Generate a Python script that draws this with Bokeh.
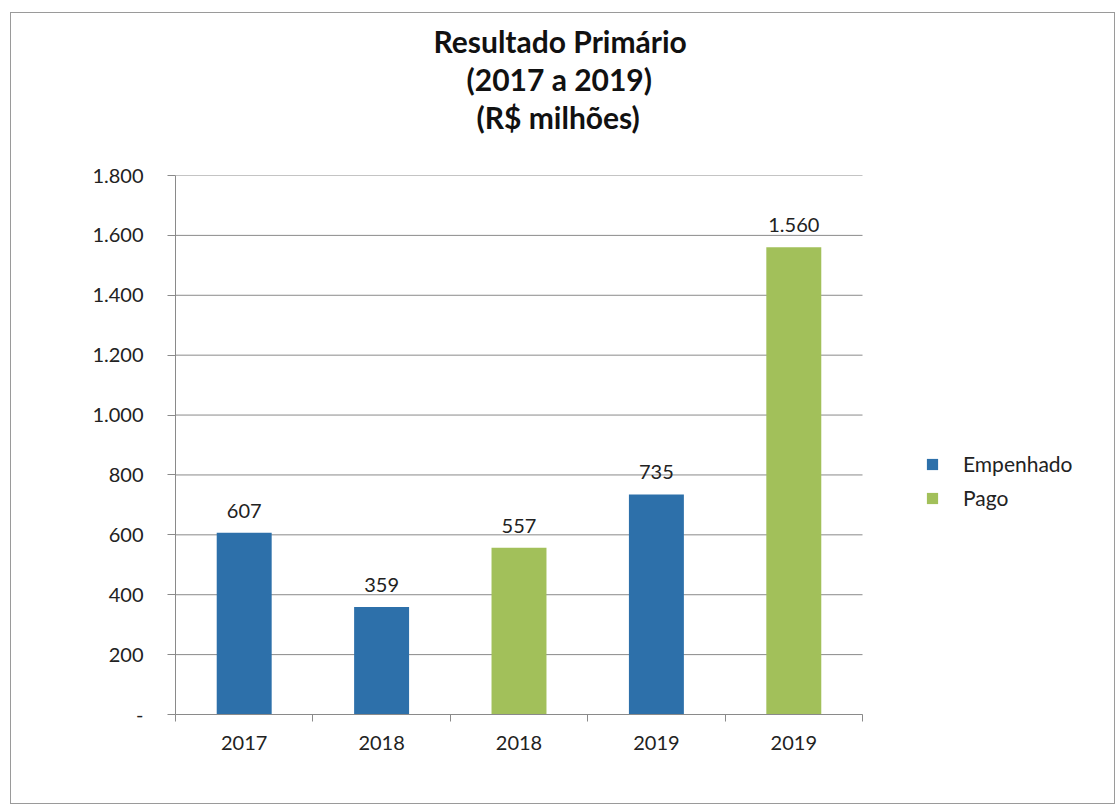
from bokeh.plotting import figure
from bokeh.models import Range1d, FixedTicker, Title, Legend, LegendItem, ColumnDataSource
from bokeh.core.properties import value
from bokeh.embed import file_html
from bokeh.resources import INLINE

# ---- data ----
categories = ["2017", "2018", "2018", "2019", "2019"]
values = [607, 359, 557, 735, 1560]
series = ["Empenhado", "Empenhado", "Pago", "Empenhado", "Pago"]
series_names = ["Empenhado", "Pago"]
series_colors = ["#2d70aa", "#a2c05a"]
y_ticks = [0, 200, 400, 600, 800, 1000, 1200, 1400, 1600, 1800]
title_lines = ["Resultado Primário", "(2017 a 2019)", "(R$ milhões)"]

def fmt(v):
    return f"{v:,}".replace(",", ".")

FONT = "Lato"
n = len(categories)
positions = [i + 0.5 for i in range(n)]

# layout (pixels)
W, H = 1105, 792
LEFT, TOP, BOTTOM, RIGHT = 164, 162, 91, 15
PLOT_W = 687                      # width of the category area
FRAME_W = W - LEFT - RIGHT
x_end = n * FRAME_W / PLOT_W      # frame extends to the right to hold the legend

p = figure(width=W, height=H, output_backend="svg", toolbar_location=None,
           x_range=Range1d(0, x_end), y_range=Range1d(0, max(y_ticks)),
           min_border_left=LEFT, min_border_right=RIGHT, min_border_bottom=BOTTOM,
           min_border_top=TOP)
p.styles = {"border": "1px solid #9a9a9a", "margin": "12px 0 0 10px"}
p.outline_line_color = None
p.background_fill_color = "white"
p.border_fill_color = "white"

# horizontal gridlines restricted to the category area
p.xgrid.visible = False
p.ygrid.visible = False
p.segment(x0=[0] * len(y_ticks), x1=[n] * len(y_ticks), y0=y_ticks, y1=y_ticks,
          line_color="#8a8a8a", line_width=1)

renderers = {}
for name, color in zip(series_names, series_colors):
    idx = [i for i, s in enumerate(series) if s == name]
    src = ColumnDataSource(dict(x=[positions[i] for i in idx], top=[values[i] for i in idx]))
    renderers[name] = p.vbar(x="x", top="top", width=0.4, source=src,
                             fill_color=color, line_color=None)

lab_src = ColumnDataSource(dict(x=positions, y=values, t=[fmt(v) for v in values]))
p.text(x="x", y="y", text="t", source=lab_src, text_align="center", text_baseline="bottom",
       y_offset=-15, text_font=value(FONT), text_font_size="20px", text_color="#222222")

# axes
p.xaxis.bounds = (0, n)
p.xaxis.ticker = FixedTicker(ticks=positions, minor_ticks=list(range(n + 1)))
p.xaxis.major_label_overrides = {pos: c for pos, c in zip(positions, categories)}
p.xaxis.major_tick_out = 0
p.xaxis.major_tick_in = 0
p.xaxis.minor_tick_out = 7
p.xaxis.minor_tick_in = 0
p.xaxis.major_label_standoff = 14
p.yaxis.ticker = FixedTicker(ticks=y_ticks)
p.yaxis.major_label_overrides = {t: ("-" if t == 0 else fmt(t)) for t in y_ticks}
p.yaxis.major_tick_out = 8
p.yaxis.major_tick_in = 0
p.yaxis.minor_tick_out = 0
p.yaxis.minor_tick_in = 0
p.yaxis.major_label_standoff = 24
for ax in (p.xaxis, p.yaxis):
    ax.axis_line_color = "#8a8a8a"
    ax.major_tick_line_color = "#8a8a8a"
    ax.minor_tick_line_color = "#8a8a8a"
    ax.major_label_text_font = FONT
    ax.major_label_text_font_size = "20px"
    ax.major_label_text_color = "#222222"

# title: three lines added bottom-up, plus a spacer next to the plot area
title_offsets = [258, 291, 301]
p.add_layout(Title(text=" ", text_font=FONT, text_font_size="30px", standoff=3), "above")
for line, off in reversed(list(zip(title_lines, title_offsets))):
    p.add_layout(Title(text=line, align="left", offset=off, text_font=FONT,
                       text_font_size="30px", text_font_style="bold", text_color="#111111",
                       standoff=0), "above")

legend = Legend(items=[LegendItem(label=s, renderers=[renderers[s]]) for s in series_names],
                location=(750, 204), border_line_color=None, background_fill_alpha=0,
                label_text_font=FONT, label_text_font_size="21px", label_text_color="#222222",
                glyph_width=14, glyph_height=14, spacing=9, padding=4, margin=0,
                label_standoff=24)
p.add_layout(legend, "center")

open("out.html", "w").write(file_html(p, INLINE))
